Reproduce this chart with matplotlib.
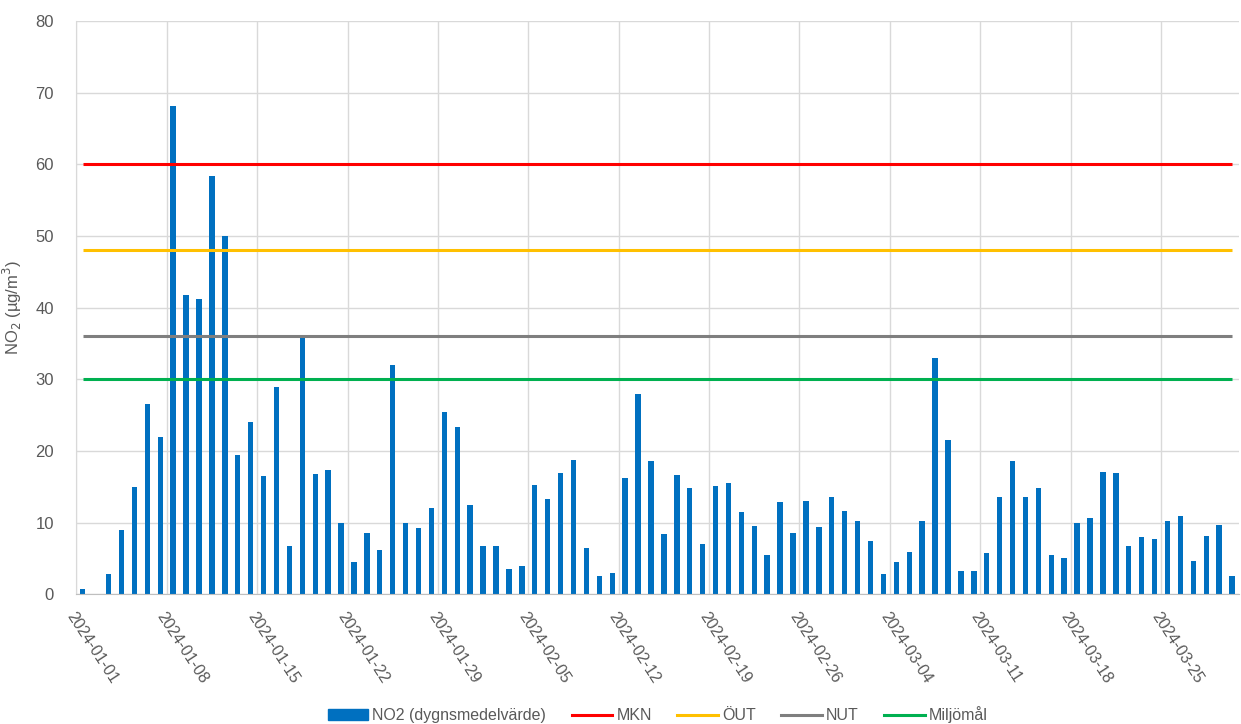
import matplotlib
matplotlib.use('Agg')
import matplotlib.pyplot as plt
import matplotlib.dates as mdates
from matplotlib.patches import Patch
from matplotlib.lines import Line2D
import numpy as np
import pandas as pd

# Dygnsmedelvärden NO2, 2024-01-01 .. 2024-03-30
dates = pd.date_range('2024-01-01', periods=90, freq='D')
no2 = [0.7, 0.0, 2.9, 9.0, 15.0, 26.6, 21.9, 68.2, 41.8, 41.2,
       58.4, 50.0, 19.4, 24.1, 16.5, 29.0, 6.8, 35.8, 16.8, 17.3,
       10.0, 4.5, 8.5, 6.2, 32.0, 10.0, 9.2, 12.0, 25.5, 23.3,
       12.5, 6.7, 6.8, 3.6, 3.9, 15.2, 13.3, 16.9, 18.8, 6.5,
       2.6, 3.0, 16.2, 27.9, 18.6, 8.4, 16.7, 14.8, 7.1, 15.1,
       15.6, 11.5, 9.6, 5.5, 12.9, 8.5, 13.0, 9.4, 13.6, 11.6,
       10.2, 7.5, 2.9, 4.5, 5.9, 10.2, 33.0, 21.5, 3.2, 3.2,
       5.8, 13.6, 18.6, 13.6, 14.8, 5.5, 5.1, 9.9, 10.6, 17.1,
       16.9, 6.8, 8.0, 7.7, 10.3, 10.9, 4.6, 8.1, 9.7, 2.5]

limit_names = ['MKN', 'ÖUT', 'NUT', 'Miljömål']
limit_values = [60, 48, 36, 30]
limit_colors = ['#FF0000', '#FFC000', '#7F7F7F', '#00B050']

plt.rcParams['font.family'] = ['Liberation Sans', 'DejaVu Sans']
txt = '#595959'

fig = plt.figure(figsize=(12.41, 7.24), dpi=100)
ax = fig.add_axes([0.0615, 0.179, 0.9365, 0.792])

x = mdates.date2num(dates) + 0.5
ax.bar(x, no2, width=0.42, color='#0070C0', zorder=2)

for v, c in zip(limit_values, limit_colors):
    ax.hlines(v, x[0], x[-1], color=c, linewidth=2.2, zorder=3)

start = mdates.date2num(dates[0])
ax.set_xlim(start, start + len(dates))
ax.set_ylim(0, 80)
ax.set_yticks(np.arange(0, 81, 10))

ticks = dates[::7]
ax.set_xticks(mdates.date2num(ticks))
ax.set_xticklabels([d.strftime('%Y-%m-%d') for d in ticks], rotation=-57,
                   ha='left', va='top', rotation_mode='anchor', fontsize=11.5)

ax.grid(True, color='#D9D9D9', linewidth=1, zorder=0)
ax.set_axisbelow(True)
for s in ['top', 'right']:
    ax.spines[s].set_visible(False)
ax.spines['left'].set_color('#D9D9D9')
ax.spines['bottom'].set_color('#BFBFBF')
ax.tick_params(axis='both', length=0, labelcolor=txt)
ax.tick_params(axis='y', pad=16, labelsize=12)
ax.tick_params(axis='x', pad=11)

ax.set_ylabel('NO$_2$ (µg/m$^3$)', fontsize=12, color=txt, labelpad=8)

handles = [Patch(color='#0070C0', label='NO2 (dygnsmedelvärde)')]
handles += [Line2D([], [], color=c, linewidth=2.2, label=n)
            for n, c in zip(limit_names, limit_colors)]
leg = fig.legend(handles=handles, loc='center', bbox_to_anchor=(0.53, 0.013),
                 ncol=5, frameon=False, fontsize=11.5, handlelength=2.55,
                 handleheight=0.6, columnspacing=1.6, handletextpad=0.25)
for t in leg.get_texts():
    t.set_color(txt)

fig.savefig('out.png', dpi=100)
